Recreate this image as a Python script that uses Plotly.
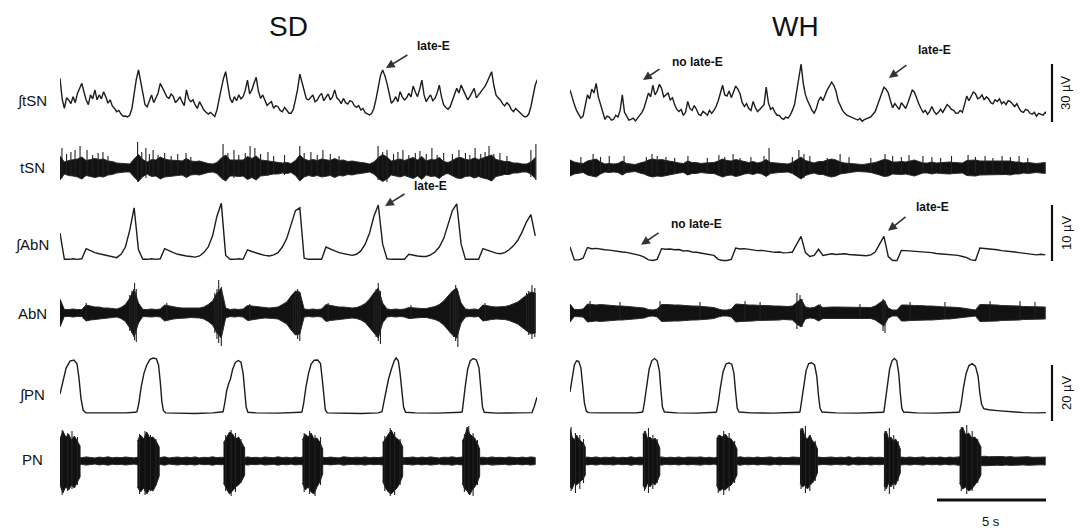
import plotly.graph_objects as go

W, H = 1080, 530
DT = 0.2
DT_FINE = 0.1       # sampling interval of the integrated tSN traces (s)
PX_PER_S = 21.8     # horizontal scale (5 s bar = 109 px)
FONT = "Liberation Sans, Arial, Helvetica, sans-serif"
INK = "#1c1c1c"

# ---------------- data ----------------
# integrated thoracic spinal nerve (uV), every 0.1 s
itsn_sd = [22.6, 12.0, 7.1, 12.5, 11.4, 9.5, 13.1, 10.0, 14.8, 17.0, 20.0, 15.5, 11.4, 9.0, 14.0, 12.0, 16.6, 11.5, 14.0, 12.0,
           15.7, 13.0, 9.7, 11.5, 8.3, 7.0, 5.3, 6.0, 4.1, 3.0, 3.1, 2.6, 3.6, 7.0, 14.8, 22.0, 26.9, 21.0, 14.0, 9.0,
           7.9, 11.5, 14.0, 10.0, 12.2, 15.0, 20.0, 17.5, 15.7, 13.0, 12.2, 14.5, 13.1, 10.0, 11.4, 13.0, 10.5, 8.5, 16.6, 12.0,
           10.5, 11.5, 8.8, 7.0, 10.5, 8.0, 6.2, 5.0, 4.1, 5.0, 3.6, 2.8, 6.2, 11.0, 17.4, 22.5, 26.0, 19.0, 12.2, 10.0,
           13.1, 11.0, 14.0, 12.0, 13.1, 16.5, 21.7, 14.5, 16.6, 20.0, 23.1, 16.0, 12.2, 14.0, 11.4, 8.5, 9.7, 10.5, 7.1, 8.5,
           7.9, 6.0, 5.3, 7.5, 6.2, 4.5, 4.5, 6.5, 11.4, 17.0, 24.8, 20.0, 15.7, 12.0, 11.4, 13.0, 14.0, 10.5, 11.4, 13.5,
           14.8, 11.0, 13.1, 14.5, 11.4, 13.0, 16.6, 12.5, 11.4, 9.5, 12.2, 10.0, 9.3, 11.0, 10.5, 8.5, 7.6, 8.5, 6.2, 7.0,
           4.8, 4.0, 3.6, 4.5, 7.1, 12.0, 19.1, 24.0, 26.9, 24.0, 20.0, 14.0, 9.7, 11.0, 13.1, 10.5, 15.7, 13.0, 11.4, 12.5,
           14.8, 13.0, 18.6, 15.5, 13.1, 17.0, 21.7, 14.0, 10.5, 12.5, 14.0, 11.0, 12.2, 15.0, 19.1, 13.0, 8.8, 7.5, 6.6, 8.0,
           11.4, 14.5, 17.4, 15.0, 19.1, 16.5, 14.0, 11.5, 13.1, 15.5, 17.4, 12.5, 14.0, 16.0, 17.4, 18.5, 20.9, 23.5, 26.0, 19.0,
           14.0, 12.5, 11.4, 9.5, 8.3, 10.0, 8.8, 6.5, 5.3, 7.0, 5.9, 4.5, 3.6, 2.7, 2.8, 4.0, 7.9, 13.0, 19.1, 22.0]
itsn_wh = [16.6, 12.0, 9.0, 6.0, 4.0, 2.0, 3.0, 9.0, 14.0, 12.0, 17.0, 15.0, 20.0, 13.0, 9.0, 4.0, 1.4, 3.0, 2.6, 1.0,
           1.4, 3.5, 2.6, 6.0, 14.0, 5.0, 2.6, 1.0, 1.4, 2.0, 0.6, 2.0, 3.8, 5.0, 7.4, 12.0, 15.0, 13.0, 19.0, 14.0,
           16.0, 19.5, 17.4, 13.0, 14.0, 15.0, 11.4, 12.5, 9.0, 6.5, 5.4, 6.5, 3.4, 5.0, 10.6, 7.0, 6.0, 8.5, 6.6, 4.0,
           3.4, 5.5, 4.6, 3.5, 6.0, 4.5, 6.0, 8.0, 11.0, 15.0, 19.0, 14.0, 13.4, 16.0, 12.6, 15.5, 18.6, 17.0, 14.6, 10.0,
           8.0, 9.5, 7.0, 6.0, 10.6, 7.5, 5.4, 6.5, 8.0, 9.0, 18.0, 10.0, 6.6, 7.5, 5.0, 3.5, 3.4, 2.0, 1.4, 2.5,
           2.0, 3.5, 6.0, 9.0, 16.0, 24.0, 30.0, 20.0, 14.0, 11.0, 8.0, 6.0, 4.6, 7.0, 11.0, 13.0, 11.0, 14.0, 16.6, 18.5,
           20.6, 19.0, 16.0, 11.0, 8.0, 6.0, 4.6, 3.5, 3.0, 2.5, 2.0, 1.5, 1.0, 1.8, 0.4, 1.2, 1.6, 2.0, 2.6, 4.0,
           5.4, 8.5, 12.0, 15.0, 18.0, 17.0, 15.0, 11.0, 7.4, 9.5, 8.0, 6.5, 10.0, 8.5, 7.0, 10.0, 13.0, 16.5, 15.4, 12.0,
           9.4, 7.0, 5.0, 6.0, 4.0, 5.5, 8.0, 5.5, 4.0, 5.0, 6.6, 5.0, 7.0, 9.0, 8.0, 6.5, 6.0, 4.5, 4.6, 6.0,
           5.0, 9.0, 13.4, 11.0, 13.0, 15.5, 14.6, 12.0, 12.6, 14.0, 11.4, 13.0, 12.0, 10.0, 9.4, 11.5, 10.6, 12.0, 9.4, 10.5,
           9.0, 11.0, 10.6, 9.0, 8.0, 9.5, 7.0, 5.5, 5.0, 6.5, 6.0, 4.5, 4.0, 5.0, 3.0, 4.5, 4.0, 3.5, 5.0, 4.0]

# raw thoracic spinal nerve: envelope half-amplitude (a.u.), every 0.2 s, + spikes
tsn_amp_sd = [12, 6, 7.5, 8, 9, 11, 7.5, 8.5, 9.5, 8.5,
              9, 7, 6.5, 5, 4.5, 4, 4, 9, 13.5, 8.5,
              6, 8.5, 8, 11, 9, 8, 8, 7.5, 7, 9.5,
              7, 6.5, 7, 5.5, 4.5, 4, 5.5, 10, 13, 8,
              8, 8.5, 8, 11.5, 9.5, 12, 8, 7.5, 7, 6,
              6, 5, 5.5, 4.5, 7.5, 13, 9, 7.5, 8.5, 7.5,
              9, 8, 7.5, 9.5, 7.5, 8, 6.5, 7, 6, 5.5,
              5, 4, 6, 10.5, 13.5, 11, 7, 8, 9, 7.5,
              9, 10.5, 8, 11.5, 7, 8.5, 8, 10.5, 6.5, 5.5,
              7.5, 10, 10.5, 8.5, 8, 10, 8.5, 10, 11, 13,
              8.5, 7.5, 6.5, 6.5, 5, 5, 4, 4, 6, 10.5]
tsn_amp_wh = [8, 6, 5, 4.5, 7, 8, 9, 6, 4, 4.5,
              4, 4.5, 7, 4.5, 4, 3.5, 5, 6, 8, 9,
              8, 8.5, 7.5, 7, 6, 5, 4.5, 7, 5.5, 5.5,
              4.5, 5, 5.5, 5.5, 7, 9, 7.5, 7, 8.5, 7.5,
              6, 5.5, 6.5, 5, 6, 8.5, 5.5, 5, 4.5, 4,
              4, 5.5, 8, 11, 7.5, 6, 5, 6.5, 6.5, 8,
              9, 8, 6, 5, 4.5, 4, 3.5, 3.5, 4, 4.5,
              5.5, 7, 8.5, 8, 6, 6, 6.5, 6, 7, 8,
              6.5, 5, 5, 6, 5, 5.5, 6, 6, 5.5, 5,
              5, 7.5, 7.5, 8, 7, 7, 7, 6.5, 7, 6.5,
              6.5, 7, 6, 6, 5, 5.5, 5, 4.5, 5, 5.5]
tsn_spk_sd_t = [0.09, 0.3, 0.5, 0.69, 0.92, 1.24, 1.5, 1.75, 1.97, 2.2, 3.56, 3.75, 3.94, 4.1, 4.27, 4.5, 4.8,
                5.1, 5.4, 5.78, 6.0, 7.48, 7.7, 7.98, 8.2, 8.5, 8.72, 8.94, 9.2, 9.54, 9.8, 10.3, 11.0,
                11.2, 11.51, 11.8, 12.06, 12.4, 12.8, 14.59, 14.8, 15.0, 15.3, 15.5, 15.73, 16.0, 16.3,
                16.51, 16.8, 17.06, 17.3, 17.6, 18.0, 18.3, 18.6, 18.8, 19.04, 19.3, 19.5, 19.68, 19.9,
                20.18, 20.5, 21.6, 21.83]
tsn_spk_sd_up = [20, 14, 16, 18, 22, 18, 13, 15, 16, 12, 26, 16, 20, 14, 18, 13, 15,
                 12, 14, 15, 11, 24, 15, 18, 13, 15, 22, 20, 14, 16, 12, 13, 22,
                 15, 16, 13, 18, 14, 12, 22, 16, 18, 14, 16, 18, 13, 15,
                 17, 14, 20, 13, 15, 14, 18, 15, 13, 20, 14, 16, 22, 14,
                 15, 12, 18, 24]
tsn_spk_sd_dn = [10, 7, 8, 8, 10, 8, 7, 8, 8, 6, 14, 9, 10, 8, 8, 7, 8,
                 6, 7, 8, 6, 12, 8, 10, 7, 8, 8, 10, 7, 8, 6, 7, 12,
                 8, 8, 7, 8, 7, 6, 12, 9, 14, 8, 8, 8, 7, 8,
                 8, 7, 8, 7, 8, 7, 10, 8, 7, 10, 7, 8, 10, 7,
                 8, 6, 9, 12]
tsn_spk_wh_t = [0.5, 1.06, 1.4, 1.8, 2.48, 3.5, 3.76, 4.0, 4.4, 4.8, 5.41, 6.3, 6.83, 7.1, 7.48, 7.8, 8.3,
                8.9, 9.13, 10.2, 10.5, 10.73, 11.0, 11.8, 12.39, 12.8, 13.8, 14.45, 14.8, 15.2, 15.55,
                16.19, 16.6, 17.0, 17.5, 18.26, 18.6, 19.04, 19.4, 19.82, 20.2, 20.6, 21.0]
tsn_spk_wh_up = [11, 14, 11, 12, 12, 11, 14, 12, 11, 10, 12, 10, 13, 11, 14, 10, 11,
                 12, 20, 11, 18, 14, 12, 10, 14, 11, 10, 14, 12, 11, 13,
                 12, 11, 10, 12, 13, 11, 12, 10, 12, 11, 12, 10]
tsn_spk_wh_dn = [5, 6, 5, 5, 5, 5, 6, 5, 5, 5, 5, 5, 6, 5, 6, 5, 5,
                 5, 6, 5, 8, 10, 5, 5, 6, 5, 5, 8, 6, 5, 6,
                 5, 5, 5, 5, 6, 5, 5, 5, 5, 5, 5, 5]

# integrated abdominal nerve (uV), every 0.2 s
iabn_sd = [5.0, 0.3, 0.3, 0.4, 0.3, 0.4, 2.2, 1.8, 1.5, 1.3,
           1.1, 0.9, 0.8, 0.6, 1.2, 2.5, 5.5, 9.5, 2.0, 0.3,
           0.3, 0.4, 0.3, 0.4, 2.2, 1.8, 1.5, 1.2, 1.0, 0.9,
           0.8, 0.7, 0.9, 1.5, 2.5, 4.5, 8.0, 10.3, 1.0, 0.3,
           0.3, 0.4, 0.3, 2.0, 1.7, 1.4, 1.2, 1.0, 0.9, 1.1,
           1.5, 2.5, 4.0, 6.5, 9.0, 9.5, 0.5, 0.3, 0.3, 0.4,
           0.3, 2.5, 2.1, 1.8, 1.5, 1.3, 1.1, 1.0, 1.2, 1.8,
           3.0, 5.0, 8.0, 10.0, 3.0, 0.4, 0.3, 0.3, 0.4, 0.3,
           1.2, 1.0, 0.9, 0.8, 0.8, 1.1, 1.6, 2.5, 4.0, 6.5,
           9.0, 10.2, 3.0, 0.3, 0.3, 0.4, 0.3, 2.2, 1.9, 1.6,
           1.4, 1.3, 1.5, 2.0, 2.7, 3.7, 5.2, 7.0, 8.3, 4.5]
iabn_wh = [2.5, 0.2, 0.2, 0.5, 2.4, 2.2, 2.25, 2.1, 2.0, 1.95,
           1.8, 1.75, 1.6, 1.55, 1.35, 1.25, 1.0, 0.7, 0.2, 0.1,
           0.3, 2.2, 2.1, 2.15, 2.0, 2.05, 1.8, 1.85, 1.6, 1.55,
           1.4, 1.35, 1.2, 1.0, 0.3, 0.1, 0.1, 0.3, 2.3, 2.15,
           2.2, 2.05, 2.0, 1.85, 1.9, 1.75, 1.7, 1.55, 1.6, 1.45,
           1.5, 1.6, 3.0, 4.4, 1.5, 0.8, 1.0, 2.1, 1.0, 1.2,
           1.3, 1.15, 1.2, 1.3, 1.15, 1.1, 1.05, 1.0, 0.95, 1.1,
           1.6, 3.0, 4.4, 0.8, 0.1, 0.1, 1.9, 1.85, 1.8, 1.75,
           1.7, 1.6, 1.5, 1.5, 1.35, 1.3, 1.2, 1.15, 1.1, 1.0,
           0.8, 0.6, 0.2, 0.1, 2.3, 2.25, 2.2, 2.05, 2.0, 1.85,
           1.8, 1.65, 1.6, 1.5, 1.4, 1.3, 1.2, 1.1, 1.2, 1.1]

# raw abdominal nerve: envelope half-amplitude (a.u.), every 0.2 s, + spikes
abn_amp_sd = [14, 3.5, 3.5, 4, 3.5, 3.5, 8, 7, 6, 6,
              5, 5, 4.5, 4, 5.5, 8.5, 15, 24, 10, 3.5,
              3.5, 4, 3.5, 4, 8, 7, 6, 5.5, 5, 5,
              4.5, 4.5, 5, 6, 8.5, 12, 20, 25, 5, 3.5,
              4, 3.5, 4, 7.5, 7, 6, 5.5, 5, 5, 5.5,
              6, 8.5, 11, 17, 22, 21, 4, 3.5, 4, 3.5,
              4, 8.5, 7.5, 7, 6, 6, 5.5, 5, 5.5, 7,
              9.5, 14, 20, 25, 10, 4, 3.5, 4, 3.5, 4,
              5.5, 5, 5, 4.5, 4.5, 5.5, 6.5, 8.5, 12, 17,
              22, 25, 10, 4, 3.5, 4, 3.5, 8, 7, 6.5,
              6, 6, 6.5, 7.5, 9, 11, 14.5, 18, 21, 20]
abn_amp_wh = [9, 3.5, 3.5, 4, 9, 8.5, 8, 8.5, 8, 7.5,
              7.5, 7, 7, 6.5, 6.5, 6, 5.5, 5, 3.5, 3,
              4, 8.5, 8.5, 8, 8, 8, 7.5, 7.5, 7, 7,
              6.5, 6.5, 6, 5.5, 4, 3, 3, 4, 9, 8.5,
              8.5, 8, 8, 7.5, 7.5, 7.5, 7, 7, 7, 6.5,
              6.5, 7, 11, 14, 6, 5, 5.5, 8, 5.5, 6,
              6, 6, 6, 6, 6, 5.5, 5.5, 5.5, 5.5, 5.5,
              7, 10, 13, 5, 3, 3, 8, 8, 7.5, 7.5,
              7.5, 7, 7, 7, 6.5, 6.5, 6, 6, 6, 5.5,
              5, 4.5, 3.5, 3, 8.5, 8.5, 8.5, 8, 8, 7.5,
              7.5, 7, 7, 7, 6.5, 6.5, 6, 6, 6, 6]
abn_spk_sd_t = [3.2, 3.3, 3.42, 3.50, 7.1, 7.2, 7.28, 7.40, 10.7, 10.8, 10.90, 11.00, 14.4, 14.5, 14.60, 14.70,
                17.9, 18.05, 18.15, 18.25, 21.4, 21.5, 21.65, 21.78, 1.20, 4.90, 8.70, 12.30, 16.10, 19.50]
abn_spk_sd_up = [18, 22, 30, 24, 20, 24, 33, 26, 16, 20, 24, 20, 18, 24, 30, 22,
                 18, 22, 28, 22, 20, 22, 28, 25, 10, 10, 9, 10, 8, 10]
abn_spk_sd_dn = [18, 20, 27, 29, 20, 26, 30, 33, 18, 22, 26, 28, 20, 24, 28, 31,
                 20, 24, 28, 34, 18, 22, 26, 24, 8, 7, 8, 7, 6, 8]
abn_spk_wh_t = [10.41, 10.55, 10.64, 14.36, 14.45, 0.92, 2.29, 4.13, 5.96, 8.03, 8.72,
                11.47, 13.3, 15.6, 17.2, 19.27, 20.64, 21.33]
abn_spk_wh_up = [20, 18, 14, 14, 12, 12, 11, 12, 11, 12, 11, 9, 9, 11, 11, 12, 12, 11]
abn_spk_wh_dn = [16, 12, 14, 18, 20, 6, 6, 6, 5, 6, 6, 5, 5, 6, 6, 6, 6, 6]

# integrated phrenic nerve (uV): time (s) / value pairs
ipn_sd_t = [0.00, 0.14, 0.28, 0.46, 0.64, 0.78, 0.87, 0.96, 1.06, 1.19,
            1.5, 2.2, 3.0, 3.45,
            3.53, 3.62, 3.72, 3.85, 3.98, 4.13, 4.28, 4.42, 4.52, 4.60, 4.67, 4.74, 4.85,
            5.3, 6.2, 7.0, 7.42,
            7.48, 7.56, 7.65, 7.74, 7.82, 7.92, 8.05, 8.18, 8.30, 8.40, 8.47, 8.54, 8.62,
            9.0, 10.0, 10.8, 11.05,
            11.10, 11.18, 11.28, 11.40, 11.52, 11.66, 11.82, 11.95, 12.03, 12.10, 12.17, 12.26,
            12.8, 13.8, 14.6, 14.72,
            14.77, 14.85, 14.95, 15.07, 15.20, 15.33, 15.42, 15.52, 15.60, 15.68, 15.76, 15.85,
            16.3, 17.3, 18.2, 18.40,
            18.45, 18.52, 18.60, 18.70, 18.82, 18.96, 19.10, 19.22, 19.30, 19.38, 19.46,
            20.0, 21.0, 21.65, 21.75, 21.88]
ipn_sd_v = [9.6, 14.6, 18.9, 21.4, 21.8, 20.4, 15.4, 8.2, 3.9, 2.9,
            2.9, 2.7, 2.9, 3.1,
            3.3, 6.5, 12.0, 17.0, 20.0, 22.0, 22.5, 22.2, 20.0, 14.0, 7.0, 3.8, 2.9,
            2.8, 2.7, 2.9, 3.1,
            3.3, 6.5, 11.0, 13.5, 15.0, 18.5, 21.0, 21.6, 21.0, 17.0, 10.0, 5.0, 3.1,
            2.9, 2.8, 2.9, 3.1,
            3.3, 6.5, 12.0, 17.0, 20.3, 21.7, 21.8, 20.5, 15.0, 8.0, 4.0, 2.9,
            2.8, 2.7, 2.9, 3.1,
            3.3, 6.5, 11.0, 15.0, 18.5, 21.5, 22.5, 21.5, 17.0, 10.0, 5.0, 3.1,
            2.9, 2.8, 2.9, 3.1,
            3.3, 7.0, 13.0, 18.5, 21.5, 22.3, 21.8, 19.0, 12.0, 5.0, 3.1,
            2.8, 2.9, 3.0, 5.0, 8.5]
ipn_wh_t = [0.00, 0.10, 0.20, 0.30, 0.40, 0.50, 0.58, 0.66, 0.75, 0.85,
            1.4, 2.3, 3.0, 3.28,
            3.34, 3.42, 3.52, 3.63, 3.75, 3.88, 4.00, 4.10, 4.17, 4.24, 4.33,
            4.9, 5.8, 6.5, 6.68,
            6.72, 6.80, 6.90, 7.02, 7.15, 7.28, 7.42, 7.52, 7.60, 7.67, 7.76,
            8.3, 9.3, 10.2, 10.50,
            10.55, 10.62, 10.72, 10.83, 10.95, 11.08, 11.22, 11.32, 11.40, 11.47, 11.56,
            12.2, 13.2, 14.1, 14.36,
            14.40, 14.47, 14.56, 14.66, 14.77, 14.88, 14.99, 15.08, 15.15, 15.22, 15.30,
            15.9, 16.8, 17.6, 17.83,
            17.87, 17.95, 18.05, 18.17, 18.30, 18.45, 18.60, 18.72, 18.80, 18.88, 18.98,
            19.2, 19.6, 20.1, 20.8, 21.5, 21.83]
ipn_wh_v = [10.4, 16.0, 20.0, 21.5, 21.3, 19.0, 13.0, 6.5, 3.5, 3.0,
            2.9, 2.8, 2.9, 3.1,
            3.3, 7.0, 13.0, 18.5, 21.5, 22.3, 21.5, 18.0, 11.0, 5.0, 3.2,
            2.9, 2.8, 2.9, 3.1,
            3.3, 6.5, 12.0, 17.5, 20.3, 20.8, 20.3, 17.0, 10.0, 4.5, 3.2,
            2.9, 2.8, 2.9, 3.1,
            3.3, 7.0, 13.0, 18.0, 20.5, 20.8, 20.0, 16.0, 9.0, 4.5, 3.2,
            2.9, 2.8, 2.9, 3.1,
            3.3, 7.0, 13.0, 18.5, 21.5, 22.3, 21.5, 17.0, 10.0, 4.5, 3.2,
            2.9, 2.8, 2.9, 3.1,
            3.3, 6.5, 12.0, 17.0, 19.8, 20.5, 19.5, 16.0, 10.0, 6.0, 4.4,
            4.0, 3.7, 3.4, 3.0, 2.9, 3.0]

# raw phrenic nerve: baseline half-amplitude every 0.2 s + burst envelopes + spikes (a.u.)
pn_base_sd = [4.0, 3.4, 4.2, 3.1, 3.8, 3.3, 4.1, 3.5, 3.0, 3.9,
              3.4, 4.2, 3.2, 3.7, 3.3, 4.0, 3.5, 3.1, 3.9, 3.4,
              4.1, 3.2, 3.8, 3.5, 4.2, 3.0, 3.6, 4.0, 3.3, 3.9,
              3.4, 4.1, 3.1, 3.7, 3.5, 4.2, 3.3, 3.8, 3.0, 4.0,
              3.5, 3.9, 3.2, 4.1, 3.4, 3.7, 3.1, 4.0, 3.6, 3.3,
              4.2, 3.4, 3.8, 3.1, 3.9, 3.5, 4.1, 3.2, 3.7, 3.4,
              4.0, 3.3, 3.9, 3.5, 3.1, 4.2, 3.6, 3.3, 3.8, 3.5,
              4.1, 3.2, 3.7, 3.4, 4.0, 3.1, 3.8, 3.5, 4.2, 3.3,
              3.6, 4.0, 3.2, 3.9, 3.4, 4.1, 3.5, 3.0, 3.8, 3.6,
              4.2, 3.3, 3.9, 3.5, 3.1, 4.0, 3.4, 3.8, 3.2, 4.1,
              3.5, 3.7, 3.3, 4.0, 3.6, 3.2, 3.9, 3.4, 4.1, 3.5]
pn_base_wh = [4.2, 3.6, 4.0, 3.3, 3.9, 3.4, 4.1, 3.2, 3.8, 3.5,
              4.0, 3.1, 3.7, 3.4, 4.2, 3.3, 3.9, 3.5, 3.2, 4.0,
              3.6, 4.1, 3.3, 3.8, 3.4, 4.0, 3.2, 3.9, 3.5, 3.7,
              4.1, 3.3, 3.8, 3.1, 4.0, 3.6, 3.4, 3.9, 3.2, 4.2,
              3.5, 3.8, 3.3, 4.0, 3.4, 3.7, 4.1, 3.2, 3.9, 3.5,
              3.3, 4.0, 3.6, 3.8, 3.2, 4.1, 3.5, 3.9, 3.4, 3.7,
              4.0, 3.3, 3.8, 3.5, 4.2, 3.1, 3.9, 3.6, 3.4, 4.0,
              3.5, 3.8, 3.3, 4.1, 3.6, 3.2, 3.9, 3.5, 4.0, 3.4,
              3.7, 4.1, 3.3, 3.8, 3.5, 4.0, 3.2, 3.9, 3.6, 4.2,
              4.4, 4.0, 4.6, 4.5, 4.1, 4.8, 4.3, 4.6, 4.2, 4.5,
              4.0, 4.4, 3.8, 4.2, 3.9, 4.3, 3.7, 4.1, 3.8, 4.0]
pn_sd_on = [0.00, 3.55, 7.50, 11.12, 14.80, 18.45]
pn_sd_off = [0.92, 4.55, 8.47, 12.05, 15.72, 19.25]
pn_sd_up = [[22, 30, 24, 27, 21, 25, 20, 15], [20, 26, 22, 29, 23, 24, 20, 14],
            [18, 24, 29, 27, 22, 24, 19, 13], [21, 27, 24, 28, 22, 23, 19, 12],
            [18, 22, 26, 31, 25, 22, 20, 14], [20, 24, 34, 27, 25, 23, 18, 12]]
pn_sd_dn = [[24, 32, 26, 29, 24, 27, 22, 16], [26, 31, 27, 33, 28, 30, 24, 15],
            [22, 28, 33, 30, 26, 24, 20, 14], [22, 29, 26, 31, 33, 26, 21, 13],
            [20, 27, 31, 33, 30, 27, 22, 15], [22, 28, 30, 34, 29, 26, 22, 15]]
pn_wh_on = [0.00, 3.34, 6.72, 10.55, 14.40, 17.87]
pn_wh_off = [0.70, 4.12, 7.66, 11.35, 15.15, 18.85]
pn_wh_up = [[32, 24, 21, 26, 22, 20, 18, 14], [26, 30, 22, 24, 21, 23, 19, 13],
            [22, 26, 24, 27, 23, 22, 18, 12], [30, 33, 24, 22, 26, 20, 18, 12],
            [26, 30, 22, 24, 20, 22, 18, 12], [30, 34, 26, 28, 23, 24, 20, 14]]
pn_wh_dn = [[26, 28, 22, 24, 22, 20, 18, 14], [24, 28, 22, 26, 22, 24, 20, 14],
            [24, 30, 28, 29, 26, 24, 20, 14], [22, 26, 24, 28, 24, 22, 18, 12],
            [24, 28, 22, 26, 22, 24, 18, 12], [22, 28, 26, 30, 28, 24, 20, 14]]
pn_spk_sd_t = [0.1, 0.35, 0.55, 0.8, 3.65, 3.9, 4.15, 4.4, 7.6, 7.85, 8.05, 8.3,
               11.2, 11.45, 11.7, 11.95, 14.9, 15.15, 15.35, 15.6, 18.55, 18.75, 18.95, 19.15]
pn_spk_sd_up = [31, 28, 30, 24, 27, 30, 26, 22, 26, 31, 28, 22, 28, 30, 26, 24, 25, 33, 29, 22, 27, 35, 28, 21]
pn_spk_sd_dn = [34, 30, 28, 24, 33, 34, 30, 24, 30, 35, 31, 22, 31, 33, 35, 24, 30, 35, 34, 24, 31, 33, 35, 24]
pn_spk_wh_t = [0.05, 0.25, 0.45, 0.62, 3.42, 3.6, 3.8, 4.0, 6.8, 7.05, 7.3, 7.55,
               10.6, 10.8, 11.0, 11.25, 14.45, 14.65, 14.85, 15.05, 17.95, 18.2, 18.45, 18.7]
pn_spk_wh_up = [34, 28, 26, 22, 30, 33, 26, 22, 26, 30, 28, 20, 33, 35, 26, 20, 30, 33, 26, 20, 34, 36, 30, 22]
pn_spk_wh_dn = [30, 32, 28, 22, 30, 32, 28, 22, 32, 34, 30, 22, 28, 32, 30, 20, 30, 33, 28, 20, 30, 33, 30, 22]

row_labels = ["\u222BtSN", "tSN", "\u222BAbN", "AbN", "\u222BPN", "PN"]
panel_titles = ["SD", "WH"]
scale_labels = ["30 \u00B5V", "10 \u00B5V", "20 \u00B5V"]
scale_values = [30, 10, 20]
time_bar_s = 5

# ---------------- layout geometry ----------------
def fx(px):
    return px / W

def fy(px):
    return 1 - px / H

# (top px, bottom px, px of value v0, v0, px of value v1, v1)
rows = [(50, 128, 122, 0, 64, 30),
        (134, 202, 168, 0, 158, 10),
        (195, 268, 261, 0, 205, 10),
        (274, 352, 313, 0, 303, 10),
        (350, 425, 421, 0, 365, 20),
        (418, 504, 461, 0, 451, 10)]
panels = [(60, 537), (570, 1046)]

layout = dict(width=W, height=H, margin=dict(l=0, r=0, t=0, b=0),
              paper_bgcolor="white", plot_bgcolor="white", showlegend=False,
              font=dict(family=FONT, color="#111"))

for c, (x0, x1) in enumerate(panels):
    layout["xaxis" if c == 0 else "xaxis2"] = dict(
        domain=[fx(x0), fx(x1)], range=[0, (x1 - x0) / PX_PER_S], visible=False, fixedrange=True)
    for r, (top, bot, p0, v0, p1, v1) in enumerate(rows):
        k = c * 6 + r + 1
        slope = (v1 - v0) / (p0 - p1)
        layout["yaxis" if k == 1 else f"yaxis{k}"] = dict(
            domain=[fy(bot), fy(top)], range=[v0 + (p0 - bot) * slope, v0 + (p0 - top) * slope],
            visible=False, fixedrange=True, anchor="x" if c == 0 else "x2")


def refs(c, r):
    k = c * 6 + r + 1
    return ("x" if c == 0 else "x2"), ("y" if k == 1 else f"y{k}")


fig = go.Figure()


def add_line(t, vals, c, r):
    xr, yr = refs(c, r)
    fig.add_trace(go.Scatter(x=t, y=vals, mode="lines", xaxis=xr, yaxis=yr,
                             line=dict(color=INK, width=1.4), hoverinfo="skip"))


def sampled(vals, dt):
    return [i * dt for i in range(len(vals))]


def add_band(amp, c, r):
    xr, yr = refs(c, r)
    t = sampled(amp, DT)
    xs = t + t[::-1]
    ys = list(amp) + [-a for a in amp[::-1]]
    fig.add_trace(go.Scatter(x=xs, y=ys, mode="lines", fill="toself", fillcolor="#121212",
                             xaxis=xr, yaxis=yr, line=dict(color="#2a2a2a", width=1.0), hoverinfo="skip"))


def add_spikes(ts, ups, dns, c, r):
    xr, yr = refs(c, r)
    xs, ys = [], []
    for t, u, d in zip(ts, ups, dns):
        xs += [t, t, None]
        ys += [-d, u, None]
    fig.add_trace(go.Scatter(x=xs, y=ys, mode="lines", xaxis=xr, yaxis=yr,
                             line=dict(color="#222", width=1.1), hoverinfo="skip"))


def add_bursts(ons, offs, ups, dns, c, r):
    xr, yr = refs(c, r)
    for on, off, u, d in zip(ons, offs, ups, dns):
        n = len(u)
        tt = [on + j * (off - on) / (n - 1) for j in range(n)]
        xs = tt + tt[::-1]
        ys = list(u) + [-v for v in d[::-1]]
        fig.add_trace(go.Scatter(x=xs, y=ys, mode="lines", fill="toself", fillcolor="#101010",
                                 xaxis=xr, yaxis=yr, line=dict(color="#222", width=1.0),
                                 hoverinfo="skip"))


# SD column
add_line(sampled(itsn_sd, DT_FINE), itsn_sd, 0, 0)
add_band(tsn_amp_sd, 0, 1)
add_spikes(tsn_spk_sd_t, tsn_spk_sd_up, tsn_spk_sd_dn, 0, 1)
add_line(sampled(iabn_sd, DT), iabn_sd, 0, 2)
add_band(abn_amp_sd, 0, 3)
add_spikes(abn_spk_sd_t, abn_spk_sd_up, abn_spk_sd_dn, 0, 3)
add_line(ipn_sd_t, ipn_sd_v, 0, 4)
add_band(pn_base_sd, 0, 5)
add_bursts(pn_sd_on, pn_sd_off, pn_sd_up, pn_sd_dn, 0, 5)
add_spikes(pn_spk_sd_t, pn_spk_sd_up, pn_spk_sd_dn, 0, 5)
# WH column
add_line(sampled(itsn_wh, DT_FINE), itsn_wh, 1, 0)
add_band(tsn_amp_wh, 1, 1)
add_spikes(tsn_spk_wh_t, tsn_spk_wh_up, tsn_spk_wh_dn, 1, 1)
add_line(sampled(iabn_wh, DT), iabn_wh, 1, 2)
add_band(abn_amp_wh, 1, 3)
add_spikes(abn_spk_wh_t, abn_spk_wh_up, abn_spk_wh_dn, 1, 3)
add_line(ipn_wh_t, ipn_wh_v, 1, 4)
add_band(pn_base_wh, 1, 5)
add_bursts(pn_wh_on, pn_wh_off, pn_wh_up, pn_wh_dn, 1, 5)
add_spikes(pn_spk_wh_t, pn_spk_wh_up, pn_spk_wh_dn, 1, 5)

fig.update_layout(**layout)


def label(text, xc, yc, size, bold=False, angle=0):
    return dict(text=f"<b>{text}</b>" if bold else text, x=fx(xc), y=fy(yc), xref="paper", yref="paper",
                xanchor="center", yanchor="middle", textangle=angle, showarrow=False,
                font=dict(size=size, family=FONT, color="#111"))


annotations = []
for title, xc in zip(panel_titles, [288, 795]):
    annotations.append(label(title, xc, 27, 28))
for lab, yc in zip(row_labels, [101, 168, 245, 313, 395, 459]):
    annotations.append(label(lab, 32, yc, 15))
for lab, yc in zip(scale_labels, [93, 233, 393]):
    annotations.append(label(lab, 1066, yc, 13, angle=-90))
annotations.append(label(f"{time_bar_s} s", 991, 521, 13))

# late-E markers: (column, row, head time s, head value, tail dx px, tail dy px, text, text px x, text px y)
markers = [(0, 0, 14.95, 27.9, 23, -14, "late-E", 433, 46),
           (0, 2, 14.91, 9.8, 21, -13, "late-E", 430, 186),
           (1, 0, 3.35, 21.7, 18, -12, "no late-E", 697, 62),
           (1, 0, 14.63, 22.8, 19, -14, "late-E", 934, 50),
           (1, 2, 3.26, 2.9, 19, -13, "no late-E", 696, 224),
           (1, 2, 14.59, 5.4, 19, -15, "late-E", 932, 207)]
for c, r, t, v, dx, dy, txt, tx, ty in markers:
    xr, yr = refs(c, r)
    annotations.append(dict(text="", x=t, y=v, xref=xr, yref=yr, ax=dx, ay=dy,
                            showarrow=True, arrowhead=2, arrowsize=1.1, arrowwidth=1.6,
                            arrowcolor="#333", standoff=0))
    annotations.append(label(txt, tx, ty, 12, bold=True))

fig.update_layout(annotations=annotations)

shapes = []
for r, val in zip([0, 2, 4], scale_values):
    _, yr = refs(1, r)
    shapes.append(dict(type="line", xref="paper", yref=yr, x0=fx(1052), x1=fx(1052), y0=0, y1=val,
                       line=dict(color="#111", width=2.2)))
shapes.append(dict(type="line", xref="x2", yref="paper", x0=(937 - 570) / PX_PER_S,
                   x1=(937 - 570) / PX_PER_S + time_bar_s, y0=fy(500), y1=fy(500),
                   line=dict(color="#111", width=3)))
fig.update_layout(shapes=shapes)

fig.write_html("out.html", config={"displayModeBar": False})
